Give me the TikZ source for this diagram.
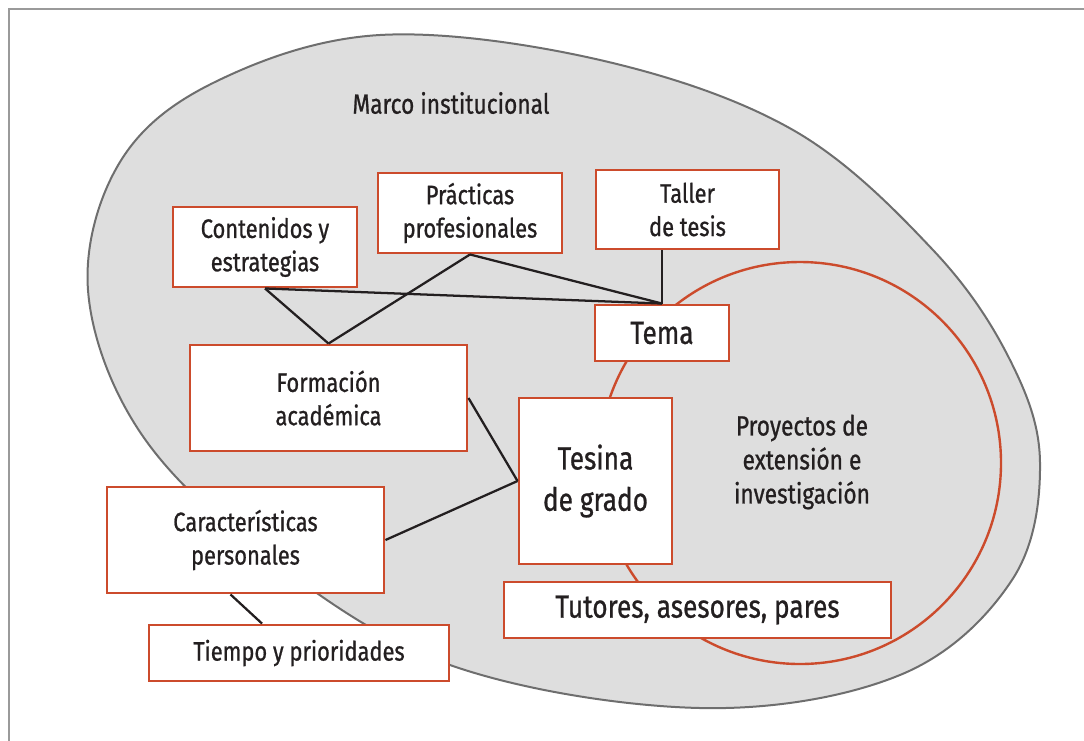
\documentclass[tikz,border=0pt]{standalone}
\usepackage{fontspec}
\setmainfont{Fira Sans}[FakeStretch=0.82,UprightFeatures={FakeBold=0.8}]
\usetikzlibrary{calc}
\definecolor{boxred}{HTML}{CC4B2C}
\definecolor{blobfill}{HTML}{DEDEDE}
\definecolor{blobline}{HTML}{6E6E6E}
\definecolor{framegray}{HTML}{9A9A9A}
\definecolor{ink}{HTML}{231F20}
\begin{document}
\begin{tikzpicture}[x=0.75pt,y=-0.75pt,
  box/.style={draw=boxred, line width=2.2pt, fill=white, text=ink, align=center, inner sep=0pt, font=\fontsize{20}{25}\selectfont},
  bigbox/.style={box, font=\fontsize{24}{31}\selectfont},
  link/.style={draw=ink, line width=1.7pt},
  lbl/.style={text=ink, align=center, font=\fontsize{20.8}{25.5}\selectfont}]
\useasboundingbox (0,0) rectangle (1084,740);
\clip (0,0) rectangle (1084,740);
% frame
\draw[framegray, line width=1.8pt] (9,745) -- (9,9) -- (1090,9);
% blob
\draw[blobline, fill=blobfill, line width=1.5pt] plot[smooth cycle, tension=0.6] coordinates {
  (380,35) (600,60) (793,130) (933,250) (1010,360) (1040,463) (1012,580)
  (900,675) (700,708) (450,665) (265,555) (140,432) (88,290) (120,162) (215,82)};
% circle
\draw[boxred, line width=1.8pt] (800,463) circle [radius=201*0.75pt];
% labels
\node[lbl] (marco) at (451,103) {Marco institucional};
\node[lbl] (proy) at (802,462) {Proyectos de\\extensión e\\investigación};
% boxes
\node[box, minimum width=138pt, minimum height=60pt] (cont) at (265,247) {Contenidos y\\estrategias};
\node[box, minimum width=138pt, minimum height=60pt] (prac) at (470,213) {Prácticas\\profesionales};
\node[box, minimum width=137.25pt, minimum height=59.25pt] (taller) at (687.5,209.5) {Taller\\de tesis};
\node[bigbox, minimum width=100.5pt, minimum height=42pt] (tema) at (662,333) {Tema};
\node[box, minimum width=207.75pt, minimum height=79.5pt] (form) at (328.5,398) {Formación\\académica};
\node[bigbox, minimum width=114.75pt, minimum height=124.5pt] (tesina) at (595.5,481) {Tesina\\de grado};
\node[box, minimum width=207.75pt, minimum height=79.5pt] (carac) at (245.5,540) {Características\\personales};
\node[box, minimum width=225pt, minimum height=42pt] (tiempo) at (299,653) {Tiempo y prioridades};
\node[bigbox, minimum width=290.25pt, minimum height=42pt] (tutores) at (697.5,610) {Tutores, asesores, pares};
% connectors
\draw[link] (cont.south) -- (form.north);
\draw[link] (prac.south) -- (form.north);
\draw[link] (cont.south) -- (tema.north);
\draw[link] (prac.south) -- (tema.north);
\draw[link] (tema.north) -- (tema.north |- taller.south);
\draw[link] (form.east) -- (tesina.west);
\draw[link] (carac.east) -- (tesina.west);
\draw[link] ($(carac.south)+(-15,0)$) -- ($(tiempo.north)+(-37,0)$);
\end{tikzpicture}
\end{document}
